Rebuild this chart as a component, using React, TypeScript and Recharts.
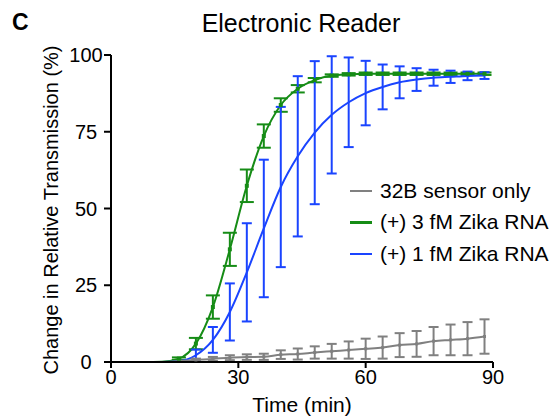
import { LineChart, Line, XAxis, YAxis, ErrorBar } from "recharts";

const times = [0, 4, 8, 12, 16, 20, 24, 28, 32, 36, 40, 44, 48, 52, 56, 60, 64, 68, 72, 76, 80, 84, 88];

const sensorOnly = [0, 0, 0, 0, 0.3, 0.7, 1.0, 1.4, 1.6, 1.7, 2.4, 2.6, 3.1, 3.5, 3.9, 4.3, 4.7, 5.5, 5.9, 6.8, 7.2, 7.6, 8.3];
const sensorErr = [null, null, null, null, null, 0.4, 0.65, 0.8, 0.9, 1, 1.4, 1.8, 2, 2.4, 2.8, 3.3, 3.6, 3.9, 4.2, 4.6, 5, 5.4, 5.6];

const zika3 = [0, 0, 0, 0.1, 1.1, 6, 17.9, 36.7, 57.4, 73.6, 83.7, 89, 91.8, 93.3, 93.7, 93.9, 93.9, 93.9, 93.9, 93.9, 93.9, 93.9, 93.9];
const zika3Err = [null, null, null, null, 0.4, 1.85, 3.8, 5.4, 5.3, 3.8, 2.2, 1.2, 0.7, 0.4, 0.4, 0.4, 0.4, 0.4, 0.4, 0.4, 0.4, 0.4, 0.4];

const zika1 = [0, 0, 0, 0, 0.3, 2.2, 7.2, 16.3, 29.2, 43.5, 57, 67, 74.7, 80.5, 84.6, 87.6, 89.6, 91.1, 92, 92.6, 92.9, 93.2, 93.3];
const zika1Err = [null, null, null, null, null, 1.85, 4.2, 9.3, 16, 22.4, 26.1, 26.1, 23.3, 19.1, 14.6, 10.5, 7.3, 5.2, 3.7, 2.6, 2, 1.4, 1.1];

const xTicks = [0, 30, 60, 90];
const yTicks = [0, 25, 50, 75, 100];

const GRAY = "#808080";
const GREEN = "#168c16";
const BLUE = "#1a44ff";

const legendItems = [
  { label: "32B sensor only", color: GRAY },
  { label: "(+) 3 fM Zika RNA", color: GREEN },
  { label: "(+) 1 fM Zika RNA", color: BLUE },
];

const data = times.map((t, i) => ({
  t,
  sensor: sensorOnly[i],
  sensorErr: sensorErr[i],
  z3: zika3[i],
  z3Err: zika3Err[i],
  z1: zika1[i],
  z1Err: zika1Err[i],
}));

const FONT = "'Liberation Sans', Arial, Helvetica, sans-serif";

const makeDot = (errKey: string, color: string, r: number) => (props: any) => {
  const { cx, cy, payload, index } = props;
  if (payload[errKey] == null) return <g key={index} />;
  return <rect key={index} x={cx - r} y={cy - r} width={r * 2} height={r * 2} fill={color} />;
};

const YTick = (props: any) => {
  const { y, payload } = props;
  return (
    <text x={86} y={y} textAnchor="middle" dominantBaseline="central" fontSize={20} fill="#000" fontFamily={FONT}>
      {payload.value}
    </text>
  );
};

export default function App() {
  return (
    <div style={{ position: "absolute", left: 0, top: 0, width: 558, height: 420, background: "#fff", fontFamily: FONT }}>
      <div style={{ position: "absolute", left: 12, top: 9, fontSize: 23, fontWeight: "bold" }}>C</div>
      <div style={{ position: "absolute", left: 0, width: 602, top: 9, fontSize: 25, textAlign: "center" }}>Electronic Reader</div>
      <div
        style={{
          position: "absolute",
          left: 51,
          top: 210,
          fontSize: 20,
          whiteSpace: "nowrap",
          transform: "translate(-50%, -50%) rotate(-90deg)",
        }}
      >
        Change in Relative Transmission (%)
      </div>
      <div style={{ position: "absolute", left: 0, width: 604, top: 393, fontSize: 21, textAlign: "center" }}>Time (min)</div>
      <div style={{ position: "absolute", left: 350, top: 175, fontSize: 21, color: "#000", zIndex: 2 }}>
        {legendItems.map((it) => (
          <div key={it.label} style={{ display: "flex", alignItems: "center", height: 31.5 }}>
            <div style={{ width: 22, height: 2.5, background: it.color, marginRight: 8 }} />
            <span>{it.label}</span>
          </div>
        ))}
      </div>
      <LineChart width={558} height={420} data={data} margin={{ top: 55, right: 65, bottom: 8, left: 51 }}>
        <XAxis
          dataKey="t"
          type="number"
          domain={[0, 90]}
          ticks={xTicks}
          axisLine={{ stroke: "#000", strokeWidth: 2 }}
          tickLine={{ stroke: "#000", strokeWidth: 2 }}
          tickSize={6}
          tickMargin={2}
          height={50}
          tick={{ fill: "#000", fontSize: 20, fontFamily: FONT }}
        />
        <YAxis
          type="number"
          domain={[0, 100]}
          ticks={yTicks}
          width={60}
          axisLine={{ stroke: "#000", strokeWidth: 2 }}
          tickLine={{ stroke: "#000", strokeWidth: 2 }}
          tickSize={7}
          tick={<YTick />}
        />
        <Line
          dataKey="z3"
          stroke={GREEN}
          strokeWidth={2}
          type="monotone"
          dot={makeDot("z3Err", GREEN, 2)}
          isAnimationActive={false}
        >
          <ErrorBar dataKey="z3Err" width={7} strokeWidth={2} stroke={GREEN} direction="y" />
        </Line>
        <Line dataKey="z1" stroke={BLUE} strokeWidth={2} type="monotone" dot={false} isAnimationActive={false}>
          <ErrorBar dataKey="z1Err" width={5} strokeWidth={2} stroke={BLUE} direction="y" />
        </Line>
        <Line
          dataKey="sensor"
          stroke={GRAY}
          strokeWidth={2}
          type="monotone"
          dot={makeDot("sensorErr", GRAY, 1.5)}
          isAnimationActive={false}
        >
          <ErrorBar dataKey="sensorErr" width={5} strokeWidth={2} stroke={GRAY} direction="y" />
        </Line>
      </LineChart>
    </div>
  );
}
